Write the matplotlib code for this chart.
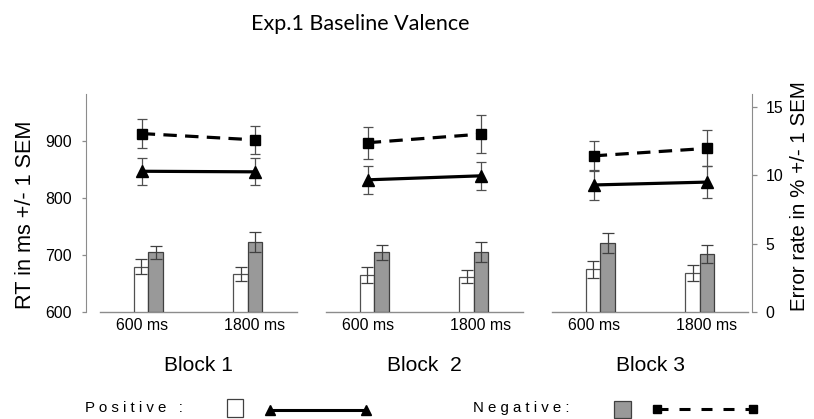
import matplotlib
matplotlib.use("Agg")
import numpy as np
import matplotlib.pyplot as plt
from matplotlib import font_manager
from matplotlib.patches import Rectangle

# ---------------- data ----------------
blocks = ["Block 1", "Block  2", "Block 3"]
conditions = ["600 ms", "1800 ms", "600 ms", "1800 ms", "600 ms", "1800 ms"]

# reaction times (lines, left axis)
rt_positive = [847, 846, 832, 839, 823, 828]
rt_positive_sem = [23.5, 23.5, 24.5, 25, 27, 28]
rt_negative = [913, 902, 897, 912, 874, 887]
rt_negative_sem = [26, 24, 28, 33, 26, 31.5]

# error rates (bars, right axis)
err_positive = [3.33, 2.80, 2.72, 2.60, 3.13, 2.84]
err_positive_sem = [0.53, 0.53, 0.57, 0.48, 0.60, 0.58]
err_negative = [4.37, 5.10, 4.37, 4.40, 5.05, 4.27]
err_negative_sem = [0.46, 0.72, 0.56, 0.70, 0.76, 0.67]

# ---------------- fonts ----------------
names = {f.name for f in font_manager.fontManager.ttflist}
if "Liberation Sans Narrow" in names:
    FAM, K = "Liberation Sans Narrow", 1.0
else:
    FAM, K = "Liberation Sans", 0.82
plt.rcParams["font.family"] = [FAM, "DejaVu Sans"]

GRAY = "#8c8c8c"
W, H = 814, 419


def fx(px):
    return px / W


def fy(py):
    return 1 - py / H


fig = plt.figure(figsize=(W / 100, H / 100), dpi=100)
ax = fig.add_axes([fx(86), fy(312.3), (752 - 86) / W, (312.3 - 94) / H])
ax2 = ax.twinx()

cond_pos = np.arange(len(conditions), dtype=float)
block_centers = cond_pos.reshape(-1, 2).mean(axis=1)
bar_center = np.repeat(block_centers, 2) + 0.88 * (cond_pos - np.repeat(block_centers, 2))
bw = 0.128

for a in (ax, ax2):
    a.set_xlim(-0.493, 5.401)
ax.set_ylim(600, 982.3)
ax2.set_ylim(0, 15.92)

# baseline segments per block
for c in block_centers:
    ax.plot([c - 0.87, c + 0.87], [600, 600], color=GRAY, lw=1.0, clip_on=False, zorder=1)

# bars (error rates)
ekw = dict(ecolor="#404040", elinewidth=0.9, capsize=4.5, capthick=0.9)
ax2.bar(bar_center - bw / 2, err_positive, width=bw, color="white", edgecolor="#505050",
        linewidth=0.9, yerr=err_positive_sem, error_kw=ekw, zorder=2)
ax2.bar(bar_center + bw / 2, err_negative, width=bw, color="#999999", edgecolor="#404040",
        linewidth=0.9, yerr=err_negative_sem, error_kw=ekw, zorder=2)

# lines (reaction times), connected only within a block
for b in range(len(blocks)):
    s = slice(2 * b, 2 * b + 2)
    ax.errorbar(cond_pos[s], rt_negative[s], yerr=rt_negative_sem[s], color="black",
                lw=2.3, dashes=(4.2, 2.6), marker="s", markersize=7.5,
                ecolor="#505050", elinewidth=0.9, capsize=3.5, capthick=0.9, zorder=3)
    ax.errorbar(cond_pos[s], rt_positive[s], yerr=rt_positive_sem[s], color="black",
                lw=2.3, marker="^", markersize=8.5,
                ecolor="#505050", elinewidth=0.9, capsize=3.5, capthick=0.9, zorder=3)

# axes styling
for side in ("top", "bottom", "right"):
    ax.spines[side].set_visible(False)
for side in ("top", "bottom", "left"):
    ax2.spines[side].set_visible(False)
ax.spines["left"].set_color(GRAY)
ax2.spines["right"].set_color(GRAY)

ax.set_yticks([600, 700, 800, 900])
ax2.set_yticks([0, 5, 10, 15])
ax.tick_params(axis="y", direction="out", length=3, width=0.9, color=GRAY,
               pad=7, labelsize=14 * K)
ax2.tick_params(axis="y", direction="out", length=3.6, width=0.9, color=GRAY,
                pad=6, labelsize=14 * K)
ax.set_xticks(cond_pos)
ax.set_xticklabels(conditions)
ax.tick_params(axis="x", length=0, pad=4, labelsize=14 * K)

ax.set_ylabel("RT in ms +/- 1 SEM", fontsize=19 * K)
ax.yaxis.set_label_coords(-0.075, 0.446)
ax2.set_ylabel("Error rate in % +/- 1 SEM", fontsize=18 * K, rotation=90)
ax2.yaxis.set_label_coords(1.057, 0.53)

for c, name in zip(block_centers, blocks):
    ax.text(c, -0.245, name, transform=ax.get_xaxis_transform(), ha="center",
            va="center", fontsize=18.5 * K)

fig.text(fx(360.5), fy(30), "Exp.1 Baseline Valence", ha="center", va="baseline",
         fontsize=15.5, family=["Lato", "DejaVu Sans"])

# ---------------- legend strip ----------------
leg = fig.add_axes([0, 0, 1, 1])
leg.set_xlim(0, W)
leg.set_ylim(H, 0)
leg.axis("off")
leg.text(85, 408, "P o s i t i v e   :", ha="left", va="center", fontsize=10.8,
         family=["Liberation Sans", "DejaVu Sans"])
leg.add_patch(Rectangle((226.7, 399), 16, 18, facecolor="white", edgecolor="#404040", lw=0.9))
leg.plot([270, 366], [410, 410], color="black", lw=2.2, marker="^", markersize=7)
leg.text(473, 408, "N e g a t i v e :", ha="left", va="center", fontsize=10.8,
         family=["Liberation Sans", "DejaVu Sans"])
leg.add_patch(Rectangle((614, 401), 17, 17, facecolor="#999999", edgecolor="#404040", lw=0.9))
leg.plot([657, 753], [409, 409], color="black", lw=2.2, dashes=(3.6, 3.6),
         marker="s", markersize=5.5)

fig.savefig("out.png", dpi=100)
